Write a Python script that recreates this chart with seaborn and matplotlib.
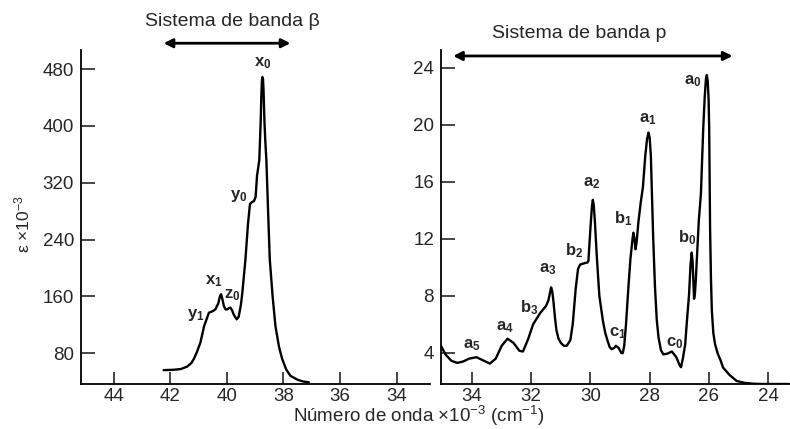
import matplotlib
matplotlib.use("Agg")
import matplotlib.pyplot as plt
import seaborn as sns
import pandas as pd

# left panel: beta band system
beta_x = [42.23, 41.9, 41.63, 41.4, 41.25, 41.16, 41.05, 40.93, 40.8, 40.63, 40.5, 40.4,
          40.3, 40.24, 40.2, 40.16, 40.1, 40.04, 39.98, 39.92, 39.87, 39.82, 39.75, 39.65,
          39.58, 39.5, 39.45, 39.34, 39.25, 39.18, 39.1, 39.04, 38.98, 38.93, 38.85, 38.8,
          38.78, 38.76, 38.74, 38.72, 38.7, 38.67, 38.64, 38.6, 38.54, 38.48, 38.38, 38.28,
          38.15, 38.04, 37.9, 37.75, 37.5, 37.3, 37.1]
beta_y = [56, 56.5, 57.5, 61, 66, 72, 82, 95, 118, 137, 139, 141.7,
          150, 160, 163, 157, 146, 141.5, 141.7, 143.5, 144, 141, 134, 127.6,
          131, 148, 165, 212, 262, 290, 293, 294, 300, 330, 352, 408,
          440, 462, 469, 466, 450, 408, 380, 352, 280, 212, 160, 118,
          88, 71.6, 57, 48, 42.5, 40, 38.9]

# right panel: p band system
p_x = [35.05, 34.9, 34.7, 34.5, 34.3, 34.1, 33.85, 33.6, 33.4, 33.2, 33.0, 32.8,
       32.6, 32.4, 32.28, 32.1, 31.94, 31.7, 31.5, 31.42, 31.37, 31.33, 31.29, 31.25,
       31.2, 31.15, 31.08, 31.0, 30.9, 30.8, 30.68, 30.6, 30.5, 30.42, 30.35, 30.2,
       30.1, 30.07, 30.0, 29.95, 29.92, 29.89, 29.85, 29.79, 29.7, 29.58, 29.5, 29.42,
       29.35, 29.28, 29.2, 29.14, 29.05, 28.96, 28.91, 28.86, 28.8, 28.72, 28.65, 28.58,
       28.55, 28.52, 28.48, 28.44, 28.38, 28.3, 28.23, 28.15, 28.09, 28.04, 28.0, 27.96,
       27.93, 27.88, 27.82, 27.76, 27.7, 27.62, 27.54, 27.4, 27.25, 27.1, 26.98, 26.94,
       26.88, 26.8, 26.74, 26.67, 26.62, 26.58, 26.55, 26.52, 26.5, 26.47, 26.44, 26.41,
       26.34, 26.27, 26.19, 26.14, 26.1, 26.07, 26.04, 26.01, 25.99, 25.96, 25.93, 25.9,
       25.85, 25.79, 25.7, 25.6, 25.52, 25.3, 25.06, 24.8, 24.5, 24.2, 23.8, 23.3]
p_y = [4.5, 3.9, 3.45, 3.3, 3.4, 3.6, 3.7, 3.45, 3.25, 3.6, 4.5, 5.0,
       4.7, 4.15, 4.1, 5.0, 6.0, 6.8, 7.3, 7.7, 8.2, 8.6, 8.3, 7.6,
       6.5, 5.6, 5.0, 4.7, 4.5, 4.5, 4.9, 6.0, 8.5, 9.9, 10.2, 10.3,
       10.35, 10.45, 12.8, 14.3, 14.74, 14.4, 13.2, 10.9, 8.0, 6.25, 5.4, 4.84,
       4.4, 4.26, 4.35, 4.5, 4.35, 4.0, 3.98, 4.5, 6.0, 8.58, 10.6, 12.0,
       12.44, 12.1, 11.27, 11.8, 13.2, 14.6, 15.6, 17.8, 19.0, 19.46, 19.1, 17.8,
       15.6, 12.0, 8.58, 6.3, 5.07, 4.2, 3.9, 3.95, 4.1, 3.7, 3.1, 3.0,
       3.6, 4.6, 6.3, 8.1, 10.2, 11.04, 10.4, 8.8, 7.8, 8.2, 9.2, 10.45,
       13.3, 15.15, 19.8, 22.0, 23.2, 23.5, 23.1, 21.8, 19.8, 12.8, 9.2, 6.95,
       5.4, 4.6, 3.95, 3.45, 2.97, 2.45, 2.03, 1.9, 1.84, 1.82, 1.82, 1.82]

beta_xticks = [44, 42, 40, 38, 36, 34]
beta_yticks = [80, 160, 240, 320, 400, 480]
p_xticks = [34, 32, 30, 28, 26, 24]
p_yticks = [4, 8, 12, 16, 20, 24]

beta_labels = [("x_0", 38.72, 489), ("y_0", 39.58, 302), ("x_1", 40.47, 181),
               ("z_0", 39.8, 162), ("y_1", 41.1, 133)]
p_labels = [("a_0", 26.53, 23.1), ("a_1", 28.05, 20.4), ("a_2", 29.95, 15.9),
            ("b_1", 28.9, 13.4), ("b_2", 30.55, 11.2), ("a_3", 31.43, 9.9),
            ("b_3", 32.07, 7.2), ("a_4", 32.9, 5.8), ("a_5", 34.0, 4.55),
            ("c_1", 29.07, 5.4), ("c_0", 27.17, 4.7), ("b_0", 26.74, 12.1)]

sns.set_style("ticks")
plt.rcParams['font.family'] = ['Liberation Sans', 'DejaVu Sans']
plt.rcParams['mathtext.fontset'] = 'custom'
plt.rcParams['mathtext.rm'] = 'Liberation Sans'
plt.rcParams['mathtext.bf'] = 'Liberation Sans:bold'
plt.rcParams['mathtext.default'] = 'regular'

fig = plt.figure(figsize=(7.9, 4.29), dpi=100)
ax1 = fig.add_axes([0.1025, 0.1049, 0.4418, 0.7786])
ax2 = fig.add_axes([0.5582, 0.1049, 0.4418, 0.7786])

df_beta = pd.DataFrame({"onda": beta_x, "eps": beta_y})
df_p = pd.DataFrame({"onda": p_x, "eps": p_y})

sns.lineplot(data=df_beta, x="onda", y="eps", ax=ax1, color="black", lw=1.7, sort=False)
sns.lineplot(data=df_p, x="onda", y="eps", ax=ax2, color="black", lw=1.7, sort=False)

ax1.set_xlim(45.15, 32.82)
ax1.set_ylim(36.5, 507)
ax2.set_xlim(35.05, 23.26)
ax2.set_ylim(1.82, 25.26)

for ax, xt, yt in [(ax1, beta_xticks, beta_yticks), (ax2, p_xticks, p_yticks)]:
    ax.set_xticks(xt)
    ax.set_yticks(yt)
    ax.set_xlabel("")
    ax.set_ylabel("")
    for s in ["top", "right"]:
        ax.spines[s].set_visible(False)
    for s in ["left", "bottom"]:
        ax.spines[s].set_linewidth(1.3)
        ax.spines[s].set_color("black")
    ax.tick_params(axis="x", direction="in", length=9, width=1.2, labelsize=13.5, pad=3)
    ax.tick_params(axis="y", direction="in", length=10, width=1.2, labelsize=13.5, pad=5)

for txt, x, y in beta_labels:
    ax1.text(x, y, r"$\mathbf{%s}$" % txt, ha="center", va="center", fontsize=12)
for txt, x, y in p_labels:
    ax2.text(x, y, r"$\mathbf{%s}$" % txt, ha="center", va="center", fontsize=12)

arrow = dict(arrowstyle="<|-|>", color="black", lw=2.0, mutation_scale=13, shrinkA=0, shrinkB=0)
ax1.annotate("", xy=(37.75, 516.5), xytext=(42.23, 516.5), arrowprops=arrow, annotation_clip=False)
ax1.text(39.8, 547, "Sistema de banda β", ha="center", va="center", fontsize=14, clip_on=False)
ax2.annotate("", xy=(25.2, 24.84), xytext=(34.64, 24.84), arrowprops=arrow, annotation_clip=False)
ax2.text(30.39, 26.4, "Sistema de banda p", ha="center", va="center", fontsize=14, clip_on=False)

fig.text(22 / 790, 1 - 224 / 429, r"ε $\times$10$^{-3}$", rotation=90, ha="center", va="center", fontsize=12.5)
fig.text(419 / 790, 1 - 416 / 429, r"Número de onda $\times$10$^{-3}$ (cm$^{-1}$)", ha="center", va="center", fontsize=13.5)

fig.savefig("out.png", dpi=100)
